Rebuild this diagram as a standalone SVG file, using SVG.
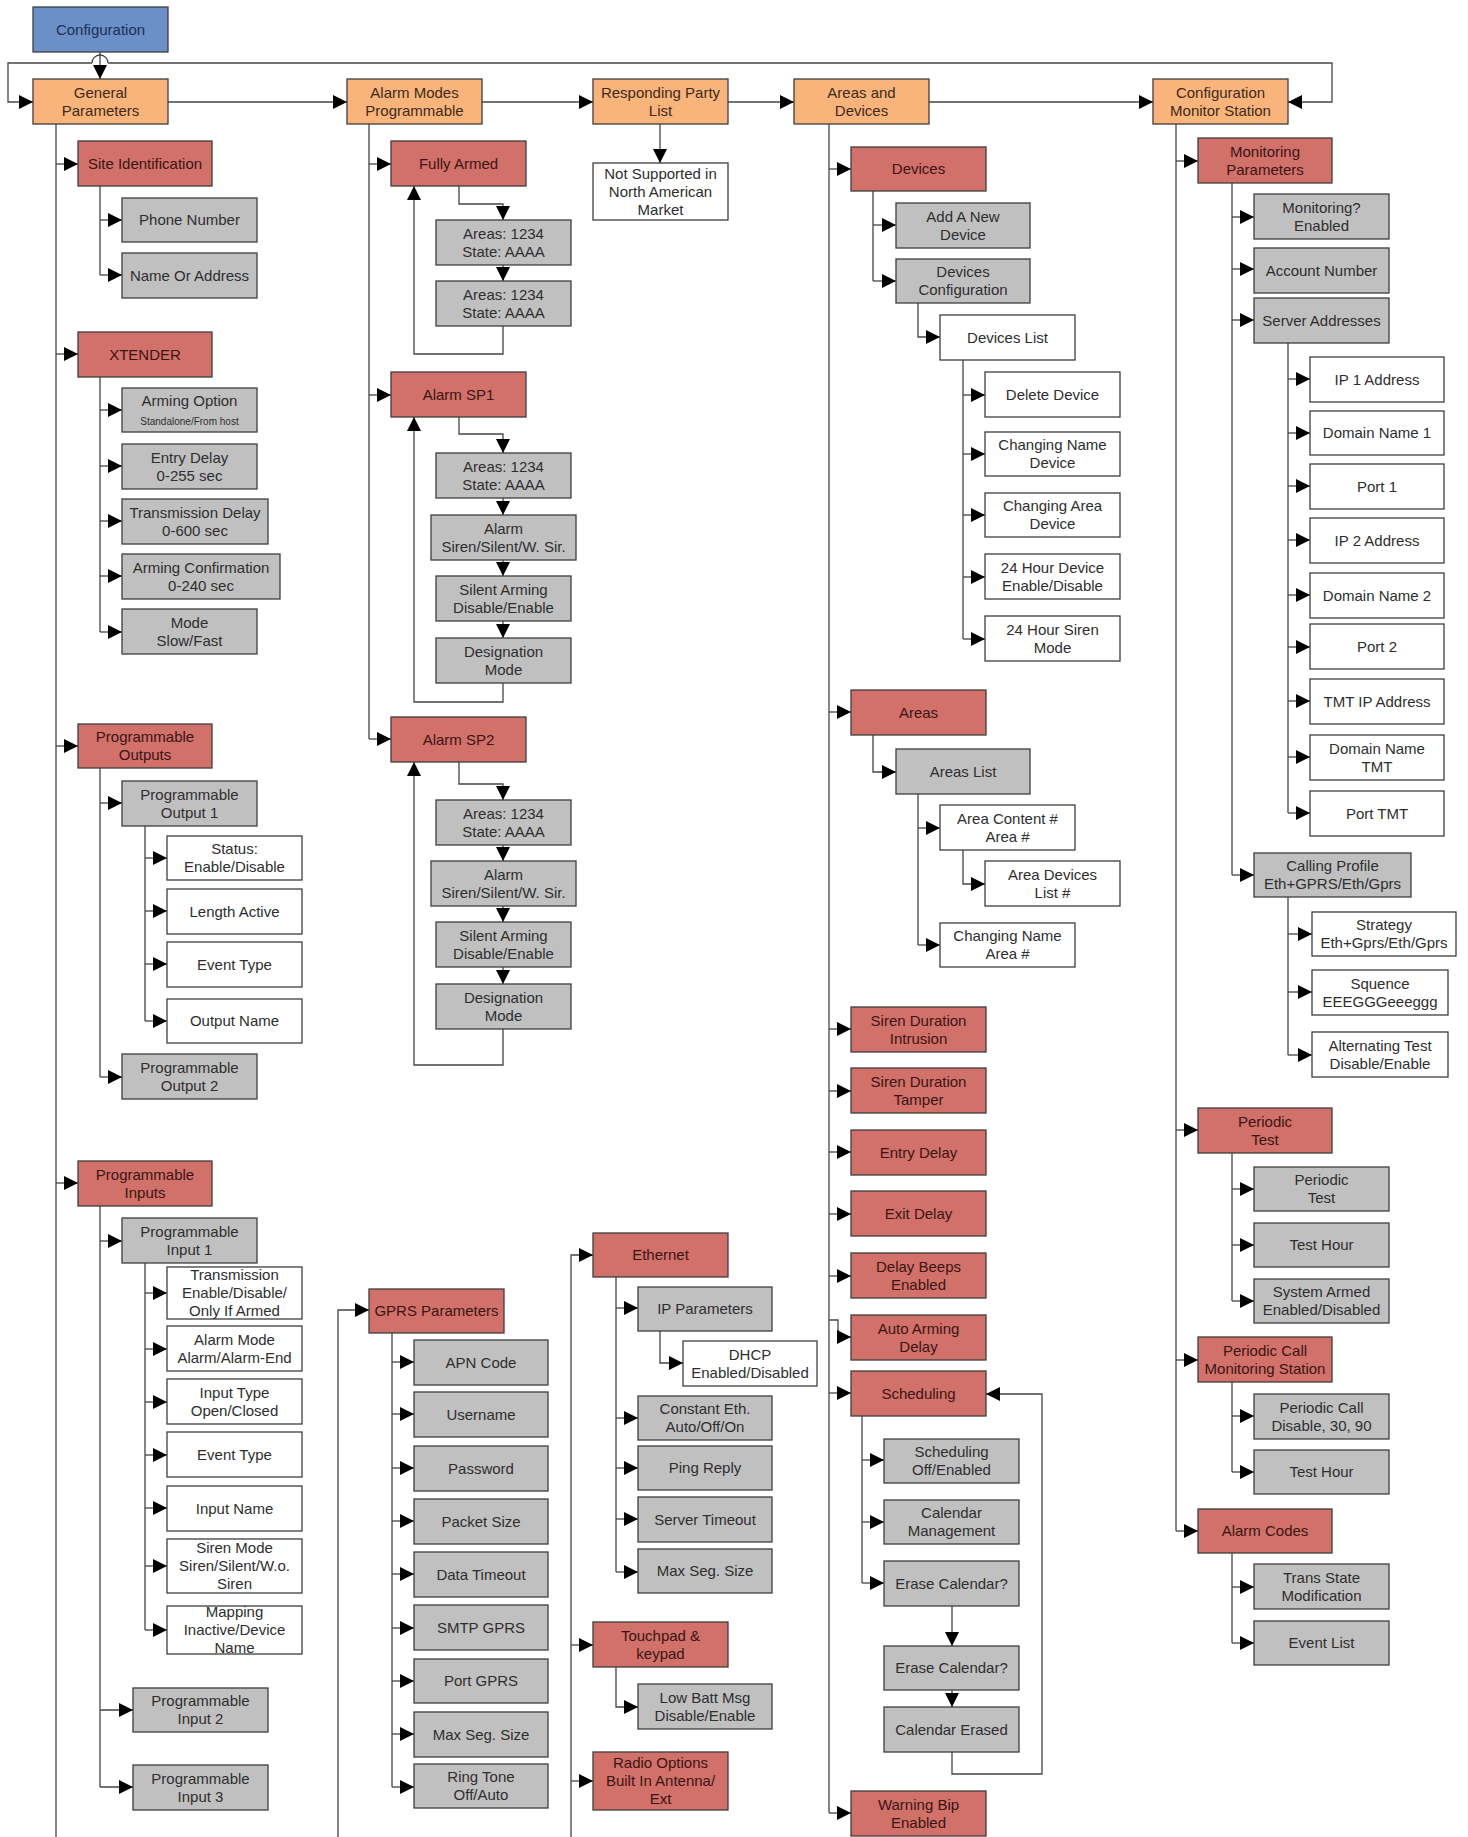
<svg xmlns="http://www.w3.org/2000/svg" width="1468" height="1837" viewBox="0 0 1468 1837">
<style>
rect{stroke:#3e3e3e;stroke-width:1.3}
.o{fill:#f9b47b}.r{fill:#d2706a}.g{fill:#c0c0c0}.w{fill:#fff}.bl{fill:#6b8fc7}
text{font-family:"Liberation Sans",Arial,sans-serif;font-size:15px;text-anchor:middle;fill:#2e2e2e}
.tr{fill:#3a1512}.to{fill:#3d2a1a}.tb{fill:#1c2f57}.sm{font-size:10px}
.c path{fill:none;stroke:#454545;stroke-width:1.3}
.c .m{marker-end:url(#a)}
</style>
<defs>
<marker id="a" markerUnits="userSpaceOnUse" markerWidth="14" markerHeight="14" refX="14" refY="7" orient="auto"><path d="M0,0L14,7L0,14z" fill="#000"/></marker>
</defs>
<rect x="0" y="0" width="1468" height="1837" style="fill:#fff;stroke:none"/>

<g class="c" id="connectors">
<!-- top -->
<path class="m" d="M100,52V79"/>
<path d="M92,63A8,8 0 0 1 108,63"/>
<path class="m" d="M92,63H8V102H33"/>
<path class="m" d="M108,63H1332V102H1288"/>
<path class="m" d="M168,102H347"/>
<path class="m" d="M482,102H593"/>
<path class="m" d="M728,102H794"/>
<path class="m" d="M929,102H1153"/>
<path class="m" d="M660,124V163"/>
<!-- general parameters -->
<path d="M56,124V1837"/>
<path class="m" d="M56,164H78"/><path class="m" d="M56,354H78"/><path class="m" d="M56,746H78"/><path class="m" d="M56,1183H78"/>
<path d="M100,186V275"/>
<path class="m" d="M100,220H122"/><path class="m" d="M100,275H122"/>
<path d="M100,377V632"/>
<path class="m" d="M100,410H122"/><path class="m" d="M100,466H122"/><path class="m" d="M100,521H122"/><path class="m" d="M100,576H122"/><path class="m" d="M100,632H122"/>
<path d="M100,768V1077"/>
<path class="m" d="M100,803H122"/><path class="m" d="M100,1077H122"/>
<path d="M145,826V1021"/>
<path class="m" d="M145,858H167"/><path class="m" d="M145,911H167"/><path class="m" d="M145,964H167"/><path class="m" d="M145,1021H167"/>
<path d="M100,1206V1787"/>
<path class="m" d="M100,1241H122"/><path class="m" d="M100,1710H133"/><path class="m" d="M100,1787H133"/>
<path d="M145,1263V1630"/>
<path class="m" d="M145,1293H167"/><path class="m" d="M145,1349H167"/><path class="m" d="M145,1402H167"/><path class="m" d="M145,1455H167"/><path class="m" d="M145,1508H167"/><path class="m" d="M145,1566H167"/><path class="m" d="M145,1630H167"/>
<!-- alarm modes -->
<path d="M369,124V739"/>
<path class="m" d="M369,164H391"/><path class="m" d="M369,395H391"/><path class="m" d="M369,739H391"/>
<path class="m" d="M459,186V204H503V220"/>
<path class="m" d="M503,265V281"/>
<path class="m" d="M503,326V354H414V186"/>
<path class="m" d="M459,417V434H503V453"/>
<path class="m" d="M503,498V515"/><path class="m" d="M503,560V576"/><path class="m" d="M503,621V638"/>
<path class="m" d="M503,683V702H414V417"/>
<path class="m" d="M459,762V784H503V800"/>
<path class="m" d="M503,845V861"/><path class="m" d="M503,906V922"/><path class="m" d="M503,967V984"/>
<path class="m" d="M503,1029V1065H414V762"/>
<!-- areas and devices -->
<path d="M829,124V1813"/>
<path class="m" d="M829,169H851"/><path class="m" d="M829,712H851"/><path class="m" d="M829,1029H851"/><path class="m" d="M829,1091H851"/><path class="m" d="M829,1152H851"/><path class="m" d="M829,1214H851"/><path class="m" d="M829,1276H851"/><path class="m" d="M829,1320H838V1337H851"/><path class="m" d="M829,1393H851"/><path class="m" d="M829,1813H851"/>
<path d="M873,191V281"/>
<path class="m" d="M873,225H896"/><path class="m" d="M873,281H896"/>
<path class="m" d="M918,303V337H940"/>
<path d="M963,360V639"/>
<path class="m" d="M963,395H985"/><path class="m" d="M963,454H985"/><path class="m" d="M963,515H985"/><path class="m" d="M963,577H985"/><path class="m" d="M963,639H985"/>
<path class="m" d="M873,735V772H896"/>
<path d="M918,794V945"/>
<path class="m" d="M918,828H940"/><path class="m" d="M918,945H940"/>
<path class="m" d="M963,850V884H985"/>
<path d="M862,1416V1583"/>
<path class="m" d="M862,1460H884"/><path class="m" d="M862,1522H884"/><path class="m" d="M862,1583H884"/>
<path class="m" d="M952,1606V1646"/>
<path class="m" d="M952,1690V1707"/>
<path class="m" d="M952,1752V1774H1042V1394H986"/>
<!-- gprs -->
<path class="m" d="M338,1837V1310H369"/>
<path d="M392,1333V1787"/>
<path class="m" d="M392,1362H414"/><path class="m" d="M392,1414H414"/><path class="m" d="M392,1468H414"/><path class="m" d="M392,1521H414"/><path class="m" d="M392,1574H414"/><path class="m" d="M392,1628H414"/><path class="m" d="M392,1681H414"/><path class="m" d="M392,1734H414"/><path class="m" d="M392,1787H414"/>
<!-- ethernet -->
<path class="m" d="M571,1837V1255H593"/>
<path class="m" d="M571,1645H593"/><path class="m" d="M571,1781H593"/>
<path d="M616,1277V1572"/>
<path class="m" d="M616,1308H638"/><path class="m" d="M616,1418H638"/><path class="m" d="M616,1468H638"/><path class="m" d="M616,1519H638"/><path class="m" d="M616,1572H638"/>
<path class="m" d="M660,1331V1363H683"/>
<path class="m" d="M616,1667V1707H638"/>
<!-- monitor station -->
<path d="M1176,124V1531"/>
<path class="m" d="M1176,161H1198"/><path class="m" d="M1176,1130H1198"/><path class="m" d="M1176,1360H1198"/><path class="m" d="M1176,1531H1198"/>
<path d="M1232,183V875"/>
<path class="m" d="M1232,217H1254"/><path class="m" d="M1232,269H1254"/><path class="m" d="M1232,320H1254"/><path class="m" d="M1232,875H1254"/>
<path d="M1288,343V813"/>
<path class="m" d="M1288,379H1310"/><path class="m" d="M1288,433H1310"/><path class="m" d="M1288,486H1310"/><path class="m" d="M1288,540H1310"/><path class="m" d="M1288,595H1310"/><path class="m" d="M1288,647H1310"/><path class="m" d="M1288,701H1310"/><path class="m" d="M1288,757H1310"/><path class="m" d="M1288,813H1310"/>
<path d="M1288,897V1055"/>
<path class="m" d="M1288,934H1312"/><path class="m" d="M1288,992H1312"/><path class="m" d="M1288,1055H1312"/>
<path d="M1232,1153V1301"/>
<path class="m" d="M1232,1189H1254"/><path class="m" d="M1232,1245H1254"/><path class="m" d="M1232,1301H1254"/>
<path d="M1232,1382V1472"/>
<path class="m" d="M1232,1416H1254"/><path class="m" d="M1232,1472H1254"/>
<path d="M1232,1553V1643"/>
<path class="m" d="M1232,1587H1254"/><path class="m" d="M1232,1643H1254"/>
</g>

<!-- top row -->
<g id="n-configuration"><rect class="bl" x="33" y="7" width="135" height="45"/><text class="tb" x="100.5" y="34.5">Configuration</text></g>
<g id="n-general"><rect class="o" x="33" y="79" width="135" height="45"/><text class="to" x="100.5" y="97.5">General<tspan x="100.5" dy="18">Parameters</tspan></text></g>
<g id="n-alarm-modes"><rect class="o" x="347" y="79" width="135" height="45"/><text class="to" x="414.5" y="97.5">Alarm Modes<tspan x="414.5" dy="18">Programmable</tspan></text></g>
<g id="n-responding"><rect class="o" x="593" y="79" width="135" height="45"/><text class="to" x="660.5" y="97.5">Responding Party<tspan x="660.5" dy="18">List</tspan></text></g>
<g id="n-not-supported"><rect class="w" x="593" y="163" width="135" height="57"/><text x="660.5" y="178.5">Not Supported in<tspan x="660.5" dy="18">North American</tspan><tspan x="660.5" dy="18">Market</tspan></text></g>
<g id="n-areas-devices"><rect class="o" x="794" y="79" width="135" height="45"/><text class="to" x="861.5" y="97.5">Areas and<tspan x="861.5" dy="18">Devices</tspan></text></g>
<g id="n-cms"><rect class="o" x="1153" y="79" width="135" height="45"/><text class="to" x="1220.5" y="97.5">Configuration<tspan x="1220.5" dy="18">Monitor Station</tspan></text></g>

<!-- general parameters column -->
<g id="n-site-id"><rect class="r" x="78" y="141" width="134" height="45"/><text class="tr" x="145" y="168.5">Site Identification</text></g>
<g id="n-phone"><rect class="g" x="122" y="198" width="135" height="44"/><text x="189.5" y="225">Phone Number</text></g>
<g id="n-name-address"><rect class="g" x="122" y="253" width="135" height="45"/><text x="189.5" y="280.5">Name Or Address</text></g>
<g id="n-xtender"><rect class="r" x="78" y="332" width="134" height="45"/><text class="tr" x="145" y="359.5">XTENDER</text></g>
<g id="n-arming-option"><rect class="g" x="122" y="388" width="135" height="44"/><text x="189.5" y="406">Arming Option</text><text class="sm" x="189.5" y="424.5">Standalone/From host</text></g>
<g id="n-entry-delay-x"><rect class="g" x="122" y="444" width="135" height="45"/><text x="189.5" y="462.5">Entry Delay<tspan x="189.5" dy="18">0-255 sec</tspan></text></g>
<g id="n-trans-delay"><rect class="g" x="122" y="499" width="146" height="45"/><text x="195" y="517.5">Transmission Delay<tspan x="195" dy="18">0-600 sec</tspan></text></g>
<g id="n-arming-conf"><rect class="g" x="122" y="554" width="158" height="45"/><text x="201" y="572.5">Arming Confirmation<tspan x="201" dy="18">0-240 sec</tspan></text></g>
<g id="n-mode"><rect class="g" x="122" y="609" width="135" height="45"/><text x="189.5" y="627.5">Mode<tspan x="189.5" dy="18">Slow/Fast</tspan></text></g>
<g id="n-prog-outputs"><rect class="r" x="78" y="724" width="134" height="44"/><text class="tr" x="145" y="742">Programmable<tspan x="145" dy="18">Outputs</tspan></text></g>
<g id="n-output1"><rect class="g" x="122" y="781" width="135" height="45"/><text x="189.5" y="799.5">Programmable<tspan x="189.5" dy="18">Output 1</tspan></text></g>
<g id="n-status"><rect class="w" x="167" y="836" width="135" height="44"/><text x="234.5" y="854">Status:<tspan x="234.5" dy="18">Enable/Disable</tspan></text></g>
<g id="n-length-active"><rect class="w" x="167" y="889" width="135" height="45"/><text x="234.5" y="916.5">Length Active</text></g>
<g id="n-event-type-o"><rect class="w" x="167" y="942" width="135" height="45"/><text x="234.5" y="969.5">Event Type</text></g>
<g id="n-output-name"><rect class="w" x="167" y="999" width="135" height="44"/><text x="234.5" y="1026">Output Name</text></g>
<g id="n-output2"><rect class="g" x="122" y="1054" width="135" height="45"/><text x="189.5" y="1072.5">Programmable<tspan x="189.5" dy="18">Output 2</tspan></text></g>
<g id="n-prog-inputs"><rect class="r" x="78" y="1161" width="134" height="45"/><text class="tr" x="145" y="1179.5">Programmable<tspan x="145" dy="18">Inputs</tspan></text></g>
<g id="n-input1"><rect class="g" x="122" y="1218" width="135" height="45"/><text x="189.5" y="1236.5">Programmable<tspan x="189.5" dy="18">Input 1</tspan></text></g>
<g id="n-transmission"><rect class="w" x="167" y="1267" width="135" height="52"/><text x="234.5" y="1280">Transmission<tspan x="234.5" dy="18">Enable/Disable/</tspan><tspan x="234.5" dy="18">Only If Armed</tspan></text></g>
<g id="n-alarm-mode"><rect class="w" x="167" y="1326" width="135" height="45"/><text x="234.5" y="1344.5">Alarm Mode<tspan x="234.5" dy="18">Alarm/Alarm-End</tspan></text></g>
<g id="n-input-type"><rect class="w" x="167" y="1379" width="135" height="45"/><text x="234.5" y="1397.5">Input Type<tspan x="234.5" dy="18">Open/Closed</tspan></text></g>
<g id="n-event-type-i"><rect class="w" x="167" y="1432" width="135" height="45"/><text x="234.5" y="1459.5">Event Type</text></g>
<g id="n-input-name"><rect class="w" x="167" y="1486" width="135" height="45"/><text x="234.5" y="1513.5">Input Name</text></g>
<g id="n-siren-mode"><rect class="w" x="167" y="1539" width="135" height="54"/><text x="234.5" y="1553">Siren Mode<tspan x="234.5" dy="18">Siren/Silent/W.o.</tspan><tspan x="234.5" dy="18">Siren</tspan></text></g>
<g id="n-mapping"><rect class="w" x="167" y="1606" width="135" height="48"/><text x="234.5" y="1617">Mapping<tspan x="234.5" dy="18">Inactive/Device</tspan><tspan x="234.5" dy="18">Name</tspan></text></g>
<g id="n-input2"><rect class="g" x="133" y="1688" width="135" height="44"/><text x="200.5" y="1706">Programmable<tspan x="200.5" dy="18">Input 2</tspan></text></g>
<g id="n-input3"><rect class="g" x="133" y="1765" width="135" height="45"/><text x="200.5" y="1783.5">Programmable<tspan x="200.5" dy="18">Input 3</tspan></text></g>

<!-- alarm modes column -->
<g id="n-fully-armed"><rect class="r" x="391" y="141" width="135" height="45"/><text class="tr" x="458.5" y="168.5">Fully Armed</text></g>
<g id="n-fa-areas1"><rect class="g" x="436" y="220" width="135" height="45"/><text x="503.5" y="238.5">Areas: 1234<tspan x="503.5" dy="18">State: AAAA</tspan></text></g>
<g id="n-fa-areas2"><rect class="g" x="436" y="281" width="135" height="45"/><text x="503.5" y="299.5">Areas: 1234<tspan x="503.5" dy="18">State: AAAA</tspan></text></g>
<g id="n-sp1"><rect class="r" x="391" y="372" width="135" height="45"/><text class="tr" x="458.5" y="399.5">Alarm SP1</text></g>
<g id="n-sp1-areas"><rect class="g" x="436" y="453" width="135" height="45"/><text x="503.5" y="471.5">Areas: 1234<tspan x="503.5" dy="18">State: AAAA</tspan></text></g>
<g id="n-sp1-alarm"><rect class="g" x="431" y="515" width="145" height="45"/><text x="503.5" y="533.5">Alarm<tspan x="503.5" dy="18">Siren/Silent/W. Sir.</tspan></text></g>
<g id="n-sp1-silent"><rect class="g" x="436" y="576" width="135" height="45"/><text x="503.5" y="594.5">Silent Arming<tspan x="503.5" dy="18">Disable/Enable</tspan></text></g>
<g id="n-sp1-desig"><rect class="g" x="436" y="638" width="135" height="45"/><text x="503.5" y="656.5">Designation<tspan x="503.5" dy="18">Mode</tspan></text></g>
<g id="n-sp2"><rect class="r" x="391" y="717" width="135" height="45"/><text class="tr" x="458.5" y="744.5">Alarm SP2</text></g>
<g id="n-sp2-areas"><rect class="g" x="436" y="800" width="135" height="45"/><text x="503.5" y="818.5">Areas: 1234<tspan x="503.5" dy="18">State: AAAA</tspan></text></g>
<g id="n-sp2-alarm"><rect class="g" x="431" y="861" width="145" height="45"/><text x="503.5" y="879.5">Alarm<tspan x="503.5" dy="18">Siren/Silent/W. Sir.</tspan></text></g>
<g id="n-sp2-silent"><rect class="g" x="436" y="922" width="135" height="45"/><text x="503.5" y="940.5">Silent Arming<tspan x="503.5" dy="18">Disable/Enable</tspan></text></g>
<g id="n-sp2-desig"><rect class="g" x="436" y="984" width="135" height="45"/><text x="503.5" y="1002.5">Designation<tspan x="503.5" dy="18">Mode</tspan></text></g>

<!-- areas and devices column -->
<g id="n-devices"><rect class="r" x="851" y="147" width="135" height="44"/><text class="tr" x="918.5" y="174">Devices</text></g>
<g id="n-add-device"><rect class="g" x="896" y="203" width="134" height="45"/><text x="963" y="221.5">Add A New<tspan x="963" dy="18">Device</tspan></text></g>
<g id="n-devices-config"><rect class="g" x="896" y="259" width="134" height="44"/><text x="963" y="277">Devices<tspan x="963" dy="18">Configuration</tspan></text></g>
<g id="n-devices-list"><rect class="w" x="940" y="315" width="135" height="45"/><text x="1007.5" y="342.5">Devices List</text></g>
<g id="n-delete-device"><rect class="w" x="985" y="372" width="135" height="45"/><text x="1052.5" y="399.5">Delete Device</text></g>
<g id="n-chg-name-dev"><rect class="w" x="985" y="432" width="135" height="44"/><text x="1052.5" y="450">Changing Name<tspan x="1052.5" dy="18">Device</tspan></text></g>
<g id="n-chg-area-dev"><rect class="w" x="985" y="493" width="135" height="44"/><text x="1052.5" y="511">Changing Area<tspan x="1052.5" dy="18">Device</tspan></text></g>
<g id="n-24h-device"><rect class="w" x="985" y="554" width="135" height="45"/><text x="1052.5" y="572.5">24 Hour Device<tspan x="1052.5" dy="18">Enable/Disable</tspan></text></g>
<g id="n-24h-siren"><rect class="w" x="985" y="616" width="135" height="45"/><text x="1052.5" y="634.5">24 Hour Siren<tspan x="1052.5" dy="18">Mode</tspan></text></g>
<g id="n-areas"><rect class="r" x="851" y="690" width="135" height="45"/><text class="tr" x="918.5" y="717.5">Areas</text></g>
<g id="n-areas-list"><rect class="g" x="896" y="749" width="134" height="45"/><text x="963" y="776.5">Areas List</text></g>
<g id="n-area-content"><rect class="w" x="940" y="805" width="135" height="45"/><text x="1007.5" y="823.5">Area Content #<tspan x="1007.5" dy="18">Area #</tspan></text></g>
<g id="n-area-devices"><rect class="w" x="985" y="861" width="135" height="45"/><text x="1052.5" y="879.5">Area Devices<tspan x="1052.5" dy="18">List #</tspan></text></g>
<g id="n-chg-name-area"><rect class="w" x="940" y="923" width="135" height="44"/><text x="1007.5" y="941">Changing Name<tspan x="1007.5" dy="18">Area #</tspan></text></g>
<g id="n-siren-intrusion"><rect class="r" x="851" y="1007" width="135" height="45"/><text class="tr" x="918.5" y="1025.5">Siren Duration<tspan x="918.5" dy="18">Intrusion</tspan></text></g>
<g id="n-siren-tamper"><rect class="r" x="851" y="1068" width="135" height="45"/><text class="tr" x="918.5" y="1086.5">Siren Duration<tspan x="918.5" dy="18">Tamper</tspan></text></g>
<g id="n-entry-delay"><rect class="r" x="851" y="1130" width="135" height="45"/><text class="tr" x="918.5" y="1157.5">Entry Delay</text></g>
<g id="n-exit-delay"><rect class="r" x="851" y="1191" width="135" height="45"/><text class="tr" x="918.5" y="1218.5">Exit Delay</text></g>
<g id="n-delay-beeps"><rect class="r" x="851" y="1253" width="135" height="45"/><text class="tr" x="918.5" y="1271.5">Delay Beeps<tspan x="918.5" dy="18">Enabled</tspan></text></g>
<g id="n-auto-arming"><rect class="r" x="851" y="1315" width="135" height="45"/><text class="tr" x="918.5" y="1333.5">Auto Arming<tspan x="918.5" dy="18">Delay</tspan></text></g>
<g id="n-scheduling"><rect class="r" x="851" y="1371" width="135" height="45"/><text class="tr" x="918.5" y="1398.5">Scheduling</text></g>
<g id="n-sched-off"><rect class="g" x="884" y="1439" width="135" height="44"/><text x="951.5" y="1457">Scheduling<tspan x="951.5" dy="18">Off/Enabled</tspan></text></g>
<g id="n-cal-mgmt"><rect class="g" x="884" y="1500" width="135" height="44"/><text x="951.5" y="1518">Calendar<tspan x="951.5" dy="18">Management</tspan></text></g>
<g id="n-erase-cal1"><rect class="g" x="884" y="1561" width="135" height="45"/><text x="951.5" y="1588.5">Erase Calendar?</text></g>
<g id="n-erase-cal2"><rect class="g" x="884" y="1646" width="135" height="44"/><text x="951.5" y="1673">Erase Calendar?</text></g>
<g id="n-cal-erased"><rect class="g" x="884" y="1707" width="135" height="45"/><text x="951.5" y="1734.5">Calendar Erased</text></g>
<g id="n-warning-bip"><rect class="r" x="851" y="1791" width="135" height="45"/><text class="tr" x="918.5" y="1809.5">Warning Bip<tspan x="918.5" dy="18">Enabled</tspan></text></g>

<!-- gprs column -->
<g id="n-gprs"><rect class="r" x="369" y="1289" width="135" height="44"/><text class="tr" x="436.5" y="1316">GPRS Parameters</text></g>
<g id="n-apn"><rect class="g" x="414" y="1340" width="134" height="45"/><text x="481" y="1367.5">APN Code</text></g>
<g id="n-username"><rect class="g" x="414" y="1392" width="134" height="45"/><text x="481" y="1419.5">Username</text></g>
<g id="n-password"><rect class="g" x="414" y="1446" width="134" height="45"/><text x="481" y="1473.5">Password</text></g>
<g id="n-packet-size"><rect class="g" x="414" y="1499" width="134" height="45"/><text x="481" y="1526.5">Packet Size</text></g>
<g id="n-data-timeout"><rect class="g" x="414" y="1552" width="134" height="45"/><text x="481" y="1579.5">Data Timeout</text></g>
<g id="n-smtp"><rect class="g" x="414" y="1605" width="134" height="45"/><text x="481" y="1632.5">SMTP GPRS</text></g>
<g id="n-port-gprs"><rect class="g" x="414" y="1659" width="134" height="44"/><text x="481" y="1686">Port GPRS</text></g>
<g id="n-maxseg-g"><rect class="g" x="414" y="1712" width="134" height="45"/><text x="481" y="1739.5">Max Seg. Size</text></g>
<g id="n-ring-tone"><rect class="g" x="414" y="1764" width="134" height="44"/><text x="481" y="1782">Ring Tone<tspan x="481" dy="18">Off/Auto</tspan></text></g>

<!-- ethernet column -->
<g id="n-ethernet"><rect class="r" x="593" y="1233" width="135" height="44"/><text class="tr" x="660.5" y="1260">Ethernet</text></g>
<g id="n-ip-params"><rect class="g" x="638" y="1287" width="134" height="44"/><text x="705" y="1314">IP Parameters</text></g>
<g id="n-dhcp"><rect class="w" x="683" y="1341" width="134" height="45"/><text x="750" y="1359.5">DHCP<tspan x="750" dy="18">Enabled/Disabled</tspan></text></g>
<g id="n-const-eth"><rect class="g" x="638" y="1396" width="134" height="44"/><text x="705" y="1414">Constant Eth.<tspan x="705" dy="18">Auto/Off/On</tspan></text></g>
<g id="n-ping"><rect class="g" x="638" y="1446" width="134" height="44"/><text x="705" y="1473">Ping Reply</text></g>
<g id="n-server-timeout"><rect class="g" x="638" y="1497" width="134" height="45"/><text x="705" y="1524.5">Server Timeout</text></g>
<g id="n-maxseg-e"><rect class="g" x="638" y="1549" width="134" height="44"/><text x="705" y="1576">Max Seg. Size</text></g>
<g id="n-touchpad"><rect class="r" x="593" y="1622" width="135" height="45"/><text class="tr" x="660.5" y="1640.5">Touchpad &amp;<tspan x="660.5" dy="18">keypad</tspan></text></g>
<g id="n-low-batt"><rect class="g" x="638" y="1684" width="134" height="45"/><text x="705" y="1702.5">Low Batt Msg<tspan x="705" dy="18">Disable/Enable</tspan></text></g>
<g id="n-radio"><rect class="r" x="593" y="1752" width="135" height="58"/><text class="tr" x="660.5" y="1768">Radio Options<tspan x="660.5" dy="18">Built In Antenna/</tspan><tspan x="660.5" dy="18">Ext</tspan></text></g>

<!-- monitor station column -->
<g id="n-mon-params"><rect class="r" x="1198" y="138" width="134" height="45"/><text class="tr" x="1265" y="156.5">Monitoring<tspan x="1265" dy="18">Parameters</tspan></text></g>
<g id="n-mon-enabled"><rect class="g" x="1254" y="194" width="135" height="45"/><text x="1321.5" y="212.5">Monitoring?<tspan x="1321.5" dy="18">Enabled</tspan></text></g>
<g id="n-account"><rect class="g" x="1254" y="248" width="135" height="45"/><text x="1321.5" y="275.5">Account Number</text></g>
<g id="n-server-addr"><rect class="g" x="1254" y="298" width="135" height="45"/><text x="1321.5" y="325.5">Server Addresses</text></g>
<g id="n-ip1"><rect class="w" x="1310" y="357" width="134" height="45"/><text x="1377" y="384.5">IP 1 Address</text></g>
<g id="n-dn1"><rect class="w" x="1310" y="411" width="134" height="44"/><text x="1377" y="438">Domain Name 1</text></g>
<g id="n-port1"><rect class="w" x="1310" y="464" width="134" height="45"/><text x="1377" y="491.5">Port 1</text></g>
<g id="n-ip2"><rect class="w" x="1310" y="518" width="134" height="45"/><text x="1377" y="545.5">IP 2 Address</text></g>
<g id="n-dn2"><rect class="w" x="1310" y="573" width="134" height="45"/><text x="1377" y="600.5">Domain Name 2</text></g>
<g id="n-port2"><rect class="w" x="1310" y="624" width="134" height="45"/><text x="1377" y="651.5">Port 2</text></g>
<g id="n-tmt-ip"><rect class="w" x="1310" y="679" width="134" height="45"/><text x="1377" y="706.5">TMT IP Address</text></g>
<g id="n-dn-tmt"><rect class="w" x="1310" y="735" width="134" height="45"/><text x="1377" y="753.5">Domain Name<tspan x="1377" dy="18">TMT</tspan></text></g>
<g id="n-port-tmt"><rect class="w" x="1310" y="791" width="134" height="45"/><text x="1377" y="818.5">Port TMT</text></g>
<g id="n-calling-profile"><rect class="g" x="1254" y="853" width="157" height="44"/><text x="1332.5" y="871">Calling Profile<tspan x="1332.5" dy="18">Eth+GPRS/Eth/Gprs</tspan></text></g>
<g id="n-strategy"><rect class="w" x="1312" y="912" width="144" height="44"/><text x="1384" y="930">Strategy<tspan x="1384" dy="18">Eth+Gprs/Eth/Gprs</tspan></text></g>
<g id="n-squence"><rect class="w" x="1312" y="970" width="136" height="45"/><text x="1380" y="988.5">Squence<tspan x="1380" dy="18">EEEGGGeeeggg</tspan></text></g>
<g id="n-alternating"><rect class="w" x="1312" y="1032" width="136" height="45"/><text x="1380" y="1050.5">Alternating Test<tspan x="1380" dy="18">Disable/Enable</tspan></text></g>
<g id="n-periodic-test"><rect class="r" x="1198" y="1108" width="134" height="45"/><text class="tr" x="1265" y="1126.5">Periodic<tspan x="1265" dy="18">Test</tspan></text></g>
<g id="n-periodic-test2"><rect class="g" x="1254" y="1167" width="135" height="44"/><text x="1321.5" y="1185">Periodic<tspan x="1321.5" dy="18">Test</tspan></text></g>
<g id="n-test-hour1"><rect class="g" x="1254" y="1223" width="135" height="44"/><text x="1321.5" y="1250">Test Hour</text></g>
<g id="n-system-armed"><rect class="g" x="1254" y="1279" width="135" height="44"/><text x="1321.5" y="1297">System Armed<tspan x="1321.5" dy="18">Enabled/Disabled</tspan></text></g>
<g id="n-periodic-call"><rect class="r" x="1198" y="1337" width="134" height="45"/><text class="tr" x="1265" y="1355.5">Periodic Call<tspan x="1265" dy="18">Monitoring Station</tspan></text></g>
<g id="n-periodic-call2"><rect class="g" x="1254" y="1394" width="135" height="45"/><text x="1321.5" y="1412.5">Periodic Call<tspan x="1321.5" dy="18">Disable, 30, 90</tspan></text></g>
<g id="n-test-hour2"><rect class="g" x="1254" y="1450" width="135" height="44"/><text x="1321.5" y="1477">Test Hour</text></g>
<g id="n-alarm-codes"><rect class="r" x="1198" y="1509" width="134" height="44"/><text class="tr" x="1265" y="1536">Alarm Codes</text></g>
<g id="n-trans-state"><rect class="g" x="1254" y="1564" width="135" height="45"/><text x="1321.5" y="1582.5">Trans State<tspan x="1321.5" dy="18">Modification</tspan></text></g>
<g id="n-event-list"><rect class="g" x="1254" y="1621" width="135" height="44"/><text x="1321.5" y="1648">Event List</text></g>
</svg>
